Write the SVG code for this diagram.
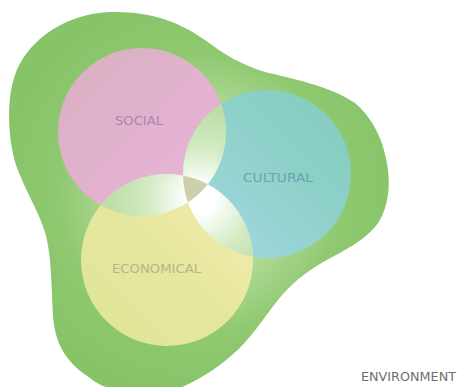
<svg xmlns="http://www.w3.org/2000/svg" width="463" height="387" viewBox="0 0 463 387">
  <defs>
    <style>
      .lbl { font-family: "DejaVu Sans", "Liberation Sans", sans-serif; font-size: 12px; text-anchor: start; }
    </style>
    <radialGradient id="blobGrad" gradientUnits="userSpaceOnUse" cx="200" cy="195" r="200">
      <stop offset="0" stop-color="#e4f2d8"/>
      <stop offset="0.4" stop-color="#b2db98"/>
      <stop offset="0.72" stop-color="#8ec86f"/>
      <stop offset="1" stop-color="#87c468"/>
    </radialGradient>
    <linearGradient id="pinkGrad" x1="0" y1="0" x2="1" y2="1">
      <stop offset="0" stop-color="#d8b0bf"/>
      <stop offset="1" stop-color="#ebb4dc"/>
    </linearGradient>
    <linearGradient id="tealGrad" x1="0" y1="1" x2="1" y2="0">
      <stop offset="0" stop-color="#a6dae6"/>
      <stop offset="0.6" stop-color="#8dd0c8"/>
      <stop offset="1" stop-color="#84ccbc"/>
    </linearGradient>
    <linearGradient id="yellowGrad" x1="1" y1="0" x2="0" y2="1">
      <stop offset="0" stop-color="#f5eeb2"/>
      <stop offset="0.5" stop-color="#e6e79e"/>
      <stop offset="1" stop-color="#dee596"/>
    </linearGradient>
    <radialGradient id="glow" gradientUnits="userSpaceOnUse" cx="200" cy="200" r="90">
      <stop offset="0" stop-color="#ffffff"/>
      <stop offset="0.16" stop-color="#ffffff"/>
      <stop offset="0.6" stop-color="#d2eac2"/>
      <stop offset="1" stop-color="#bcdfa6"/>
    </radialGradient>
    <clipPath id="clipPink"><circle cx="142" cy="132" r="84"/></clipPath>
    <clipPath id="clipTeal"><circle cx="267" cy="174" r="84"/></clipPath>
    <clipPath id="clipYellow"><circle cx="167" cy="260" r="86"/></clipPath>
  </defs>

  <rect width="463" height="387" fill="#ffffff"/>

  <g id="environment">
    <path d="M 110,12 C 150,11 180,22 205,40 C 225,55 240,64 265,72 C 290,78 330,86 355,103 C 375,120 385,145 388,170 C 391,195 385,215 375,227 C 362,242 345,250 325,261 C 305,272 290,285 278,300 C 262,320 250,340 232,355 C 215,370 198,380 180,388 C 160,396 110,396 90,378 C 70,365 58,350 54,325 C 51,300 53,260 45,232 C 38,210 25,190 16,165 C 8,140 6,100 15,75 C 25,45 60,14 110,12 Z" fill="url(#blobGrad)"/>
    <text class="lbl" x="361" y="381" fill="#6f6f6f" textLength="95" lengthAdjust="spacingAndGlyphs">ENVIRONMENT</text>
  </g>

  <g id="social">
    <circle cx="142" cy="132" r="84" fill="url(#pinkGrad)"/>
  </g>
  <g id="cultural">
    <circle cx="267" cy="174" r="84" fill="url(#tealGrad)"/>
  </g>
  <g id="economical">
    <circle cx="167" cy="260" r="86" fill="url(#yellowGrad)"/>
  </g>

  <g id="overlaps">
    <g clip-path="url(#clipPink)">
      <circle cx="267" cy="174" r="84" fill="url(#glow)"/>
      <circle cx="167" cy="260" r="86" fill="url(#glow)"/>
    </g>
    <g clip-path="url(#clipTeal)">
      <circle cx="167" cy="260" r="86" fill="url(#glow)"/>
    </g>
    <g clip-path="url(#clipPink)">
      <g clip-path="url(#clipTeal)">
        <circle cx="167" cy="260" r="86" fill="#cecfac"/>
      </g>
    </g>
  </g>

  <g id="labels">
    <text class="lbl" x="115" y="125" fill="#b27fae" textLength="48" lengthAdjust="spacingAndGlyphs">SOCIAL</text>
    <text class="lbl" x="243" y="182" fill="#68a4ae" textLength="70" lengthAdjust="spacingAndGlyphs">CULTURAL</text>
    <text class="lbl" x="112" y="273" fill="#b4b48e" textLength="89" lengthAdjust="spacingAndGlyphs">ECONOMICAL</text>
  </g>
</svg>
